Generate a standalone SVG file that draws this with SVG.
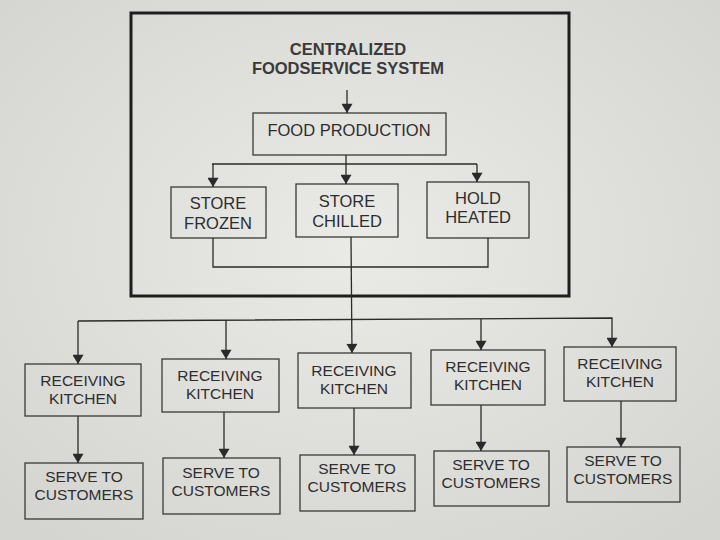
<svg xmlns="http://www.w3.org/2000/svg" width="720" height="540" viewBox="0 0 720 540">
<defs>
<radialGradient id="bg" cx="50%" cy="45%" r="70%">
<stop offset="0" stop-color="#eaeae7"/>
<stop offset="1" stop-color="#d4d4d1"/>
</radialGradient>
<marker id="ah" viewBox="0 0 10 12" refX="10" refY="6" markerWidth="12" markerHeight="11" markerUnits="userSpaceOnUse" orient="auto">
<path d="M0,0 L10,6 L0,12 Z" fill="#2a2a2a"/>
</marker>
<style>
.box{fill:none;stroke:#3a3a3a;stroke-width:1.3}
.t{font-family:"Liberation Sans",Arial,sans-serif;fill:#2e2e2e;text-anchor:middle}
.m{font-size:16.5px}
.s{font-size:15.5px}
.title{font-size:16.5px;font-weight:bold;fill:#3a3a3a}
.c line,.c polyline{stroke:#2a2a2a;stroke-width:1.3;fill:none}
</style>
</defs>
<rect width="720" height="540" fill="url(#bg)"/>
<g id="system">
<rect x="131" y="13" width="438" height="283" fill="none" stroke="#1e1e1e" stroke-width="3"/>
<text class="t title" x="348" y="55">CENTRALIZED</text>
<text class="t title" x="348" y="74">FOODSERVICE SYSTEM</text>
</g>
<g id="food-production"><rect class="box" x="253" y="113" width="193" height="42"/><text class="t m" x="349" y="136">FOOD PRODUCTION</text></g>
<g id="store-frozen"><rect class="box" x="171" y="187" width="95" height="51"/><text class="t m" x="218" y="209">STORE</text><text class="t m" x="218" y="229">FROZEN</text></g>
<g id="store-chilled"><rect class="box" x="296" y="184" width="102" height="53"/><text class="t m" x="347" y="207">STORE</text><text class="t m" x="347" y="227">CHILLED</text></g>
<g id="hold-heated"><rect class="box" x="427" y="182" width="102" height="56"/><text class="t m" x="478" y="204">HOLD</text><text class="t m" x="478" y="223">HEATED</text></g>

<g id="rk1"><rect class="box" x="25" y="364" width="116" height="52"/><text class="t s" x="83" y="386">RECEIVING</text><text class="t s" x="83" y="404">KITCHEN</text></g>
<g id="rk2"><rect class="box" x="162" y="359" width="117" height="53"/><text class="t s" x="220" y="381">RECEIVING</text><text class="t s" x="220" y="399">KITCHEN</text></g>
<g id="rk3"><rect class="box" x="298" y="353" width="113" height="55"/><text class="t s" x="354" y="376">RECEIVING</text><text class="t s" x="354" y="394">KITCHEN</text></g>
<g id="rk4"><rect class="box" x="431" y="350" width="114" height="55"/><text class="t s" x="488" y="372">RECEIVING</text><text class="t s" x="488" y="390">KITCHEN</text></g>
<g id="rk5"><rect class="box" x="564" y="347" width="112" height="54"/><text class="t s" x="620" y="369">RECEIVING</text><text class="t s" x="620" y="387">KITCHEN</text></g>

<g id="sc1"><rect class="box" x="25" y="463" width="118" height="56"/><text class="t s" x="84" y="482">SERVE TO</text><text class="t s" x="84" y="500">CUSTOMERS</text></g>
<g id="sc2"><rect class="box" x="163" y="458" width="117" height="56"/><text class="t s" x="221" y="478">SERVE TO</text><text class="t s" x="221" y="496">CUSTOMERS</text></g>
<g id="sc3"><rect class="box" x="300" y="455" width="115" height="56"/><text class="t s" x="357" y="474">SERVE TO</text><text class="t s" x="357" y="492">CUSTOMERS</text></g>
<g id="sc4"><rect class="box" x="434" y="451" width="115" height="55"/><text class="t s" x="491" y="470">SERVE TO</text><text class="t s" x="491" y="488">CUSTOMERS</text></g>
<g id="sc5"><rect class="box" x="567" y="447" width="113" height="55"/><text class="t s" x="623" y="466">SERVE TO</text><text class="t s" x="623" y="484">CUSTOMERS</text></g>

<g id="connectors" class="c">
<line x1="347" y1="90" x2="347" y2="113" marker-end="url(#ah)"/>
<line x1="346" y1="155" x2="346" y2="164"/>
<line x1="212" y1="164" x2="477" y2="164"/>
<line x1="213" y1="164" x2="213" y2="187" marker-end="url(#ah)"/>
<line x1="346" y1="164" x2="346" y2="184" marker-end="url(#ah)"/>
<line x1="477" y1="164" x2="477" y2="182" marker-end="url(#ah)"/>
<polyline points="213,238 213,267 488,267 488,238"/>
<line x1="351" y1="237" x2="352" y2="353" marker-end="url(#ah)"/>
<polyline points="78,321 612,318 612,347" marker-end="url(#ah)"/>
<line x1="78" y1="321" x2="78" y2="364" marker-end="url(#ah)"/>
<line x1="226" y1="320" x2="226" y2="359" marker-end="url(#ah)"/>
<line x1="481" y1="319" x2="481" y2="350" marker-end="url(#ah)"/>
<line x1="78" y1="416" x2="78" y2="463" marker-end="url(#ah)"/>
<line x1="224" y1="412" x2="224" y2="458" marker-end="url(#ah)"/>
<line x1="354" y1="408" x2="354" y2="455" marker-end="url(#ah)"/>
<line x1="481" y1="405" x2="481" y2="451" marker-end="url(#ah)"/>
<line x1="621" y1="401" x2="621" y2="447" marker-end="url(#ah)"/>
</g>
</svg>
